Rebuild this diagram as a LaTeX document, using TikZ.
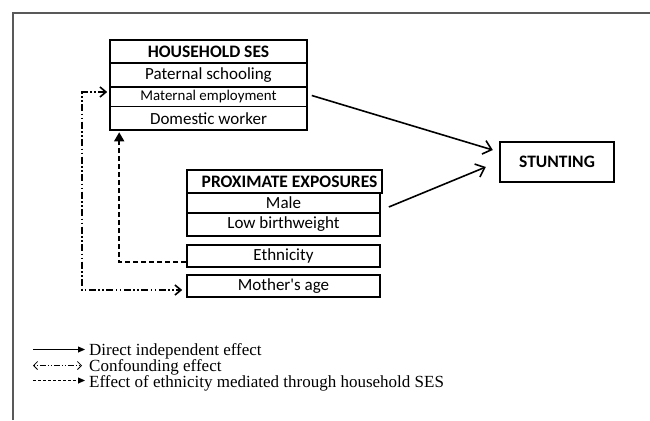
\documentclass[tikz,border=0pt]{standalone}
\usepackage{fontspec}
\setmainfont{Liberation Serif}
\newfontfamily\calib{Carlito}
\usetikzlibrary{arrows.meta,calc}
\begin{document}
\begin{tikzpicture}[x=1pt,y=-1pt,
  row/.style={draw, line width=1.6pt, rectangle, inner sep=0pt, font=\calib\fontsize{17}{18}\selectfont},
  hdr/.style={draw, line width=2.4pt, rectangle, inner sep=0pt, font=\calib\bfseries\fontsize{17.5}{19}\selectfont},
  conn/.style={line width=1.6pt},
  barb/.style={-{Straight Barb[length=8pt,width=14pt,line width=1.6pt]}},
  leg/.style={anchor=base west, inner sep=0pt, text height=10.5pt, text depth=3pt, font=\fontsize{17}{18}\selectfont}
]
\useasboundingbox (0,0) rectangle (650,420);
% frame
\draw[line width=1.6pt, black!65] (13,420) -- (13,13) -- (650,13);

% household SES
\node[row, minimum width=197pt, minimum height=23.5pt] (pat) at (208.5,75) {Paternal schooling};
\node[row, minimum width=197pt, minimum height=20pt, font=\calib\fontsize{14.9}{16}\selectfont] (mat) at (208.5,96.5) {Maternal employment};
\node[row, minimum width=197pt, minimum height=23.5pt] (dom) at (208.5,118.25) {Domestic worker};
\node[hdr, minimum width=197pt, minimum height=23pt] (hh) at (208.5,51.5) {HOUSEHOLD SES};

% proximate exposures
\node[row, minimum width=193pt, minimum height=20pt] (male) at (283.5,203) {Male};
\node[row, minimum width=193pt, minimum height=23pt] (lbw) at (283.5,224.5) {Low birthweight};
\node[hdr, minimum width=195pt, minimum height=23pt] (pe) at (284.5,181.5) {};
\node[anchor=west, inner sep=0pt, font=\calib\bfseries\fontsize{17.5}{19}\selectfont] (pet) at (201.5,182) {PROXIMATE EXPOSURES};
\node[row, minimum width=193pt, minimum height=22pt] (eth) at (283.5,256) {Ethnicity};
\node[row, minimum width=193pt, minimum height=22pt] (age) at (283.5,286) {Mother's age};

% stunting
\node[hdr, minimum width=114pt, minimum height=40pt] (st) at (557,162) {STUNTING};

% direct effects
\draw[conn, barb] ($(mat.east)+(4,-1)$) -- ($(st.west)+(-6,-12)$);
\draw[conn, barb] ($(male.east)+(8,4)$) -- ($(st.west)+(-13,5)$);

% mediated (dashed)
\draw[conn, dash pattern=on 5pt off 3pt, -{Triangle[length=9pt,width=10pt]}]
  ($(eth.west)+(0,6)$) -| ($(dom.south west)+(10,1.5)$);

% confounding
\draw[conn, dash pattern=on 7pt off 2.5pt on 1.5pt off 2.5pt on 1.5pt off 2.5pt,
  {Straight Barb[length=6pt,width=10pt,line width=1.6pt]}-{Straight Barb[length=6pt,width=10pt,line width=1.6pt]}]
  ($(mat.west)+(-2,-4.5)$) -- ++(-25,0) |- ($(age.west)+(-4,4)$);

% legend
\coordinate (l1a) at (33,349.5); \coordinate (l1b) at (85,349.5);
\coordinate (l2a) at (33,365.5); \coordinate (l2b) at (82,365.5);
\coordinate (l3a) at (33,380.5); \coordinate (l3b) at (85,380.5);
\draw[line width=0.8pt, -{Triangle[length=7pt,width=6pt]}] (l1a) -- (l1b);
\draw[line width=0.8pt, dash pattern=on 1pt off 2pt on 1pt off 2pt on 6pt off 2pt,
  {Straight Barb[length=4pt,width=8pt,line width=0.8pt]}-{Straight Barb[length=4pt,width=8pt,line width=0.8pt]}] (l2a) -- (l2b);
\draw[line width=0.8pt, dash pattern=on 3pt off 2pt, -{Triangle[length=7pt,width=6pt]}] (l3a) -- (l3b);
\node[leg] (t1) at (89,355) {Direct independent effect};
\node[leg] (t2) at (89,371) {Confounding effect};
\node[leg] (t3) at (89,387) {Effect of ethnicity mediated through household SES};
\end{tikzpicture}
\end{document}
